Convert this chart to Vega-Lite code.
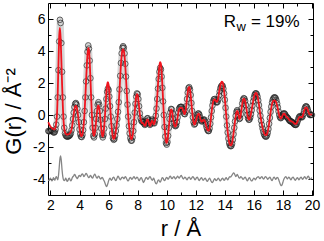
{
"$schema":"https://vega.github.io/schema/vega-lite/v6.json",
"width":265,"height":192,
"autosize":{"type":"none"},
"padding":{"left":48,"top":3,"right":11,"bottom":46},
"config":{"view":{"stroke":"#000","strokeWidth":1},"font":"Liberation Sans",
"axis":{"grid":false,"domain":false,"labelFont":"Liberation Sans","titleFont":"Liberation Sans","labelColor":"#000","titleColor":"#000","tickColor":"#000","tickWidth":1,"labelFontSize":14,"titleFontSize":22,"titleFontWeight":"normal"}},
"datasets":{"pdf":[
{"r":1.85,"o":-1.00,"f":-0.45,"d":-4.05},{"r":1.90,"o":-1.02,"f":-0.55,"d":-4.10},{"r":1.95,"o":-1.00,"f":-0.65,"d":-4.00},{"r":2.00,"o":-0.98,"f":-0.72,"d":-3.95},{"r":2.05,"o":-0.95,"f":-0.78,"d":-4.05},{"r":2.10,"o":-0.98,"f":-0.82,"d":-4.12},{"r":2.15,"o":-1.02,"f":-0.85,"d":-4.05},{"r":2.20,"o":-1.08,"f":-0.88,"d":-3.92},{"r":2.25,"o":-1.10,"f":-0.90,"d":-3.98},{"r":2.30,"o":-1.05,"f":-0.88,"d":-4.08},{"r":2.35,"o":-0.90,"f":-0.75,"d":-3.95},{"r":2.40,"o":-0.60,"f":-0.45,"d":-3.85},{"r":2.45,"o":-0.10,"f":0.05,"d":-3.95},{"r":2.50,"o":1.10,"f":1.40,"d":-4.05},{"r":2.55,"o":2.80,"f":3.20,"d":-3.80},{"r":2.60,"o":4.60,"f":4.90,"d":-3.30},{"r":2.65,"o":5.95,"f":5.45,"d":-2.75},{"r":2.70,"o":5.75,"f":4.80,"d":-2.55},{"r":2.75,"o":4.50,"f":3.40,"d":-2.90},{"r":2.80,"o":2.70,"f":1.90,"d":-3.45},{"r":2.85,"o":1.10,"f":0.60,"d":-3.85},{"r":2.90,"o":-0.10,"f":-0.35,"d":-4.05},{"r":2.95,"o":-0.80,"f":-0.85,"d":-4.10},{"r":3.00,"o":-1.15,"f":-1.08,"d":-4.05},
{"r":3.05,"o":-1.28,"f":-1.18,"d":-3.95},{"r":3.10,"o":-1.33,"f":-1.22,"d":-4.05},{"r":3.15,"o":-1.35,"f":-1.22,"d":-4.15},{"r":3.20,"o":-1.35,"f":-1.22,"d":-4.10},{"r":3.25,"o":-1.32,"f":-1.20,"d":-3.98},{"r":3.30,"o":-1.30,"f":-1.18,"d":-3.95},{"r":3.35,"o":-1.25,"f":-1.12,"d":-4.05},{"r":3.40,"o":-1.15,"f":-1.05,"d":-4.12},{"r":3.45,"o":-0.95,"f":-0.90,"d":-4.05},{"r":3.50,"o":-0.65,"f":-0.65,"d":-3.92},{"r":3.55,"o":-0.25,"f":-0.30,"d":-3.85},{"r":3.60,"o":0.15,"f":0.05,"d":-3.80},{"r":3.65,"o":0.50,"f":0.35,"d":-3.72},{"r":3.70,"o":0.70,"f":0.52,"d":-3.75},{"r":3.75,"o":0.75,"f":0.58,"d":-3.85},{"r":3.80,"o":0.65,"f":0.50,"d":-3.92},{"r":3.85,"o":0.40,"f":0.28,"d":-3.98},{"r":3.90,"o":0.00,"f":-0.05,"d":-3.90},{"r":3.95,"o":-0.45,"f":-0.45,"d":-3.80},{"r":4.00,"o":-0.90,"f":-0.85,"d":-3.78},
{"r":4.05,"o":-1.20,"f":-1.15,"d":-3.85},{"r":4.10,"o":-1.35,"f":-1.30,"d":-3.80},{"r":4.15,"o":-1.38,"f":-1.32,"d":-3.70},{"r":4.20,"o":-1.25,"f":-1.22,"d":-3.68},{"r":4.25,"o":-0.95,"f":-0.92,"d":-3.75},{"r":4.30,"o":-0.45,"f":-0.45,"d":-3.85},{"r":4.35,"o":0.25,"f":0.25,"d":-3.80},{"r":4.40,"o":1.10,"f":1.10,"d":-3.72},{"r":4.45,"o":2.10,"f":2.10,"d":-3.65},{"r":4.50,"o":3.10,"f":3.05,"d":-3.70},{"r":4.55,"o":3.95,"f":3.80,"d":-3.80},{"r":4.60,"o":4.35,"f":4.20,"d":-3.88},{"r":4.65,"o":4.15,"f":4.05,"d":-3.92},{"r":4.70,"o":3.40,"f":3.35,"d":-3.85},{"r":4.75,"o":2.30,"f":2.30,"d":-3.78},{"r":4.80,"o":1.10,"f":1.10,"d":-3.82},{"r":4.85,"o":0.00,"f":0.00,"d":-3.92},{"r":4.90,"o":-0.80,"f":-0.75,"d":-3.95},{"r":4.95,"o":-1.30,"f":-1.20,"d":-3.85},{"r":5.00,"o":-1.40,"f":-1.30,"d":-3.75},
{"r":5.05,"o":-1.20,"f":-1.15,"d":-3.70},{"r":5.10,"o":-0.80,"f":-0.80,"d":-3.78},{"r":5.15,"o":-0.25,"f":-0.30,"d":-3.88},{"r":5.20,"o":0.25,"f":0.15,"d":-3.95},{"r":5.25,"o":0.65,"f":0.50,"d":-3.90},{"r":5.30,"o":0.80,"f":0.60,"d":-3.82},{"r":5.35,"o":0.65,"f":0.45,"d":-3.85},{"r":5.40,"o":0.25,"f":0.10,"d":-3.95},{"r":5.45,"o":-0.30,"f":-0.40,"d":-4.00},{"r":5.50,"o":-0.85,"f":-0.90,"d":-3.95},{"r":5.55,"o":-1.25,"f":-1.25,"d":-3.90},{"r":5.60,"o":-1.40,"f":-1.35,"d":-3.95},{"r":5.65,"o":-1.25,"f":-1.15,"d":-4.05},{"r":5.70,"o":-0.85,"f":-0.70,"d":-4.12},{"r":5.75,"o":-0.25,"f":-0.05,"d":-4.25},{"r":5.80,"o":0.40,"f":0.70,"d":-4.38},{"r":5.85,"o":1.00,"f":1.40,"d":-4.48},{"r":5.90,"o":1.45,"f":1.90,"d":-4.42},{"r":5.95,"o":1.65,"f":2.05,"d":-4.28},{"r":6.00,"o":1.55,"f":1.90,"d":-4.12},
{"r":6.05,"o":1.15,"f":1.40,"d":-4.00},{"r":6.10,"o":0.55,"f":0.70,"d":-3.95},{"r":6.15,"o":-0.10,"f":-0.05,"d":-4.02},{"r":6.20,"o":-0.70,"f":-0.65,"d":-4.08},{"r":6.25,"o":-1.15,"f":-1.10,"d":-4.02},{"r":6.30,"o":-1.45,"f":-1.40,"d":-3.92},{"r":6.35,"o":-1.55,"f":-1.50,"d":-3.88},{"r":6.40,"o":-1.50,"f":-1.45,"d":-3.95},{"r":6.45,"o":-1.30,"f":-1.30,"d":-4.05},{"r":6.50,"o":-1.00,"f":-1.00,"d":-4.10},{"r":6.55,"o":-0.65,"f":-0.65,"d":-4.02},{"r":6.60,"o":-0.25,"f":-0.30,"d":-3.90},{"r":6.65,"o":0.20,"f":0.15,"d":-3.82},{"r":6.70,"o":0.80,"f":0.75,"d":-3.88},{"r":6.75,"o":1.60,"f":1.50,"d":-3.98},{"r":6.80,"o":2.45,"f":2.35,"d":-4.05},{"r":6.85,"o":3.25,"f":3.15,"d":-4.00},{"r":6.90,"o":3.85,"f":3.70,"d":-3.92},{"r":6.95,"o":4.20,"f":4.05,"d":-3.88},{"r":7.00,"o":4.30,"f":4.12,"d":-3.92},
{"r":7.05,"o":4.20,"f":4.00,"d":-3.98},{"r":7.10,"o":3.85,"f":3.65,"d":-3.92},{"r":7.15,"o":3.20,"f":3.05,"d":-3.85},{"r":7.20,"o":2.40,"f":2.30,"d":-3.90},{"r":7.25,"o":1.50,"f":1.45,"d":-4.00},{"r":7.30,"o":0.65,"f":0.65,"d":-4.08},{"r":7.35,"o":-0.10,"f":-0.05,"d":-4.12},{"r":7.40,"o":-0.70,"f":-0.60,"d":-4.05},{"r":7.45,"o":-1.15,"f":-1.05,"d":-3.95},{"r":7.50,"o":-1.45,"f":-1.35,"d":-3.90},{"r":7.55,"o":-1.60,"f":-1.50,"d":-3.95},{"r":7.60,"o":-1.60,"f":-1.50,"d":-4.02},{"r":7.65,"o":-1.40,"f":-1.30,"d":-3.98},{"r":7.70,"o":-1.00,"f":-0.95,"d":-3.90},{"r":7.75,"o":-0.45,"f":-0.40,"d":-3.85},{"r":7.80,"o":0.15,"f":0.20,"d":-3.92},{"r":7.85,"o":0.70,"f":0.75,"d":-4.00},{"r":7.90,"o":1.15,"f":1.15,"d":-3.95},{"r":7.95,"o":1.35,"f":1.30,"d":-3.88},{"r":8.00,"o":1.30,"f":1.25,"d":-3.92},
{"r":8.05,"o":1.00,"f":0.95,"d":-4.02},{"r":8.10,"o":0.55,"f":0.50,"d":-4.10},{"r":8.15,"o":0.10,"f":0.05,"d":-4.05},{"r":8.20,"o":-0.20,"f":-0.25,"d":-3.95},{"r":8.25,"o":-0.35,"f":-0.42,"d":-3.92},{"r":8.30,"o":-0.42,"f":-0.50,"d":-4.00},{"r":8.35,"o":-0.42,"f":-0.50,"d":-4.12},{"r":8.40,"o":-0.45,"f":-0.55,"d":-4.22},{"r":8.45,"o":-0.55,"f":-0.62,"d":-4.15},{"r":8.50,"o":-0.62,"f":-0.68,"d":-4.05},{"r":8.55,"o":-0.55,"f":-0.60,"d":-3.95},{"r":8.60,"o":-0.38,"f":-0.42,"d":-3.90},{"r":8.65,"o":-0.22,"f":-0.30,"d":-3.95},{"r":8.70,"o":-0.20,"f":-0.28,"d":-4.02},{"r":8.75,"o":-0.32,"f":-0.42,"d":-3.98},{"r":8.80,"o":-0.52,"f":-0.60,"d":-3.88},{"r":8.85,"o":-0.62,"f":-0.68,"d":-3.85},{"r":8.90,"o":-0.55,"f":-0.60,"d":-3.92},{"r":8.95,"o":-0.38,"f":-0.42,"d":-4.02},{"r":9.00,"o":-0.28,"f":-0.35,"d":-4.08},
{"r":9.05,"o":-0.35,"f":-0.45,"d":-4.02},{"r":9.10,"o":-0.50,"f":-0.58,"d":-3.95},{"r":9.15,"o":-0.52,"f":-0.55,"d":-4.05},{"r":9.20,"o":-0.35,"f":-0.35,"d":-4.18},{"r":9.25,"o":-0.05,"f":0.00,"d":-4.28},{"r":9.30,"o":0.40,"f":0.50,"d":-4.30},{"r":9.35,"o":1.00,"f":1.15,"d":-4.20},{"r":9.40,"o":1.65,"f":1.90,"d":-4.08},{"r":9.45,"o":2.25,"f":2.60,"d":-4.05},{"r":9.50,"o":2.70,"f":3.10,"d":-4.15},{"r":9.55,"o":2.95,"f":3.30,"d":-4.20},{"r":9.60,"o":2.85,"f":3.20,"d":-4.12},{"r":9.65,"o":2.40,"f":2.70,"d":-4.00},{"r":9.70,"o":1.70,"f":1.90,"d":-3.92},{"r":9.75,"o":0.85,"f":0.95,"d":-3.95},{"r":9.80,"o":0.00,"f":0.05,"d":-4.05},{"r":9.85,"o":-0.75,"f":-0.70,"d":-4.10},{"r":9.90,"o":-1.35,"f":-1.25,"d":-4.05},{"r":9.95,"o":-1.75,"f":-1.65,"d":-3.95},{"r":10.00,"o":-1.85,"f":-1.75,"d":-3.90},
{"r":10.05,"o":-1.70,"f":-1.60,"d":-3.95},{"r":10.10,"o":-1.30,"f":-1.25,"d":-4.02},{"r":10.15,"o":-0.80,"f":-0.75,"d":-3.95},{"r":10.20,"o":-0.25,"f":-0.25,"d":-3.85},{"r":10.25,"o":0.15,"f":0.15,"d":-3.82},{"r":10.30,"o":0.38,"f":0.35,"d":-3.90},{"r":10.35,"o":0.35,"f":0.30,"d":-3.98},{"r":10.40,"o":0.10,"f":0.05,"d":-3.95},{"r":10.45,"o":-0.25,"f":-0.30,"d":-3.88},{"r":10.50,"o":-0.50,"f":-0.55,"d":-3.85},{"r":10.55,"o":-0.65,"f":-0.70,"d":-3.92},{"r":10.60,"o":-0.70,"f":-0.72,"d":-4.00},{"r":10.65,"o":-0.65,"f":-0.65,"d":-3.95},{"r":10.70,"o":-0.45,"f":-0.45,"d":-3.88},{"r":10.75,"o":-0.15,"f":-0.15,"d":-3.82},{"r":10.80,"o":0.15,"f":0.15,"d":-3.88},{"r":10.85,"o":0.38,"f":0.35,"d":-3.95},{"r":10.90,"o":0.48,"f":0.43,"d":-3.90},{"r":10.95,"o":0.50,"f":0.45,"d":-3.82},{"r":11.00,"o":0.52,"f":0.46,"d":-3.78},
{"r":11.05,"o":0.48,"f":0.44,"d":-3.85},{"r":11.10,"o":0.38,"f":0.36,"d":-3.95},{"r":11.15,"o":0.22,"f":0.22,"d":-4.00},{"r":11.20,"o":0.08,"f":0.08,"d":-3.95},{"r":11.25,"o":0.05,"f":0.05,"d":-3.88},{"r":11.30,"o":0.20,"f":0.25,"d":-3.92},{"r":11.35,"o":0.55,"f":0.60,"d":-4.00},{"r":11.40,"o":1.00,"f":1.05,"d":-4.05},{"r":11.45,"o":1.40,"f":1.45,"d":-3.98},{"r":11.50,"o":1.68,"f":1.70,"d":-3.90},{"r":11.55,"o":1.74,"f":1.76,"d":-3.88},{"r":11.60,"o":1.60,"f":1.62,"d":-3.95},{"r":11.65,"o":1.25,"f":1.25,"d":-4.02},{"r":11.70,"o":0.75,"f":0.75,"d":-3.98},{"r":11.75,"o":0.25,"f":0.25,"d":-3.90},{"r":11.80,"o":-0.15,"f":-0.15,"d":-3.85},{"r":11.85,"o":-0.45,"f":-0.45,"d":-3.90},{"r":11.90,"o":-0.60,"f":-0.60,"d":-3.98},{"r":11.95,"o":-0.55,"f":-0.55,"d":-4.05},{"r":12.00,"o":-0.40,"f":-0.40,"d":-4.00},
{"r":12.05,"o":-0.20,"f":-0.22,"d":-3.92},{"r":12.10,"o":-0.02,"f":-0.05,"d":-3.88},{"r":12.15,"o":0.08,"f":0.05,"d":-3.95},{"r":12.20,"o":0.10,"f":0.08,"d":-4.05},{"r":12.25,"o":0.02,"f":0.00,"d":-4.10},{"r":12.30,"o":-0.15,"f":-0.18,"d":-4.02},{"r":12.35,"o":-0.32,"f":-0.35,"d":-3.95},{"r":12.40,"o":-0.40,"f":-0.42,"d":-3.92},{"r":12.45,"o":-0.38,"f":-0.40,"d":-4.00},{"r":12.50,"o":-0.32,"f":-0.34,"d":-4.08},{"r":12.55,"o":-0.28,"f":-0.30,"d":-4.05},{"r":12.60,"o":-0.30,"f":-0.32,"d":-3.98},{"r":12.65,"o":-0.42,"f":-0.45,"d":-3.95},{"r":12.70,"o":-0.60,"f":-0.62,"d":-4.02},{"r":12.75,"o":-0.78,"f":-0.80,"d":-4.10},{"r":12.80,"o":-0.92,"f":-0.92,"d":-4.15},{"r":12.85,"o":-1.00,"f":-0.98,"d":-4.08},{"r":12.90,"o":-1.00,"f":-0.98,"d":-4.00},{"r":12.95,"o":-0.85,"f":-0.85,"d":-3.95},{"r":13.00,"o":-0.55,"f":-0.55,"d":-4.02},
{"r":13.05,"o":-0.15,"f":-0.15,"d":-4.12},{"r":13.10,"o":0.25,"f":0.25,"d":-4.20},{"r":13.15,"o":0.60,"f":0.58,"d":-4.22},{"r":13.20,"o":0.85,"f":0.82,"d":-4.15},{"r":13.25,"o":0.98,"f":0.95,"d":-4.05},{"r":13.30,"o":1.00,"f":0.98,"d":-3.98},{"r":13.35,"o":0.92,"f":0.92,"d":-4.02},{"r":13.40,"o":0.82,"f":0.85,"d":-4.10},{"r":13.45,"o":0.78,"f":0.82,"d":-4.08},{"r":13.50,"o":0.82,"f":0.90,"d":-4.00},{"r":13.55,"o":0.98,"f":1.10,"d":-3.95},{"r":13.60,"o":1.22,"f":1.38,"d":-4.00},{"r":13.65,"o":1.48,"f":1.65,"d":-4.08},{"r":13.70,"o":1.68,"f":1.88,"d":-4.12},{"r":13.75,"o":1.80,"f":2.02,"d":-4.05},{"r":13.80,"o":1.85,"f":2.08,"d":-3.98},{"r":13.85,"o":1.82,"f":2.05,"d":-3.95},{"r":13.90,"o":1.65,"f":1.85,"d":-4.02},{"r":13.95,"o":1.35,"f":1.50,"d":-4.08},{"r":14.00,"o":0.95,"f":1.05,"d":-4.05},
{"r":14.05,"o":0.45,"f":0.50,"d":-3.95},{"r":14.10,"o":-0.10,"f":-0.05,"d":-3.92},{"r":14.15,"o":-0.65,"f":-0.60,"d":-4.00},{"r":14.20,"o":-1.10,"f":-1.05,"d":-4.05},{"r":14.25,"o":-1.48,"f":-1.42,"d":-3.98},{"r":14.30,"o":-1.75,"f":-1.70,"d":-3.90},{"r":14.35,"o":-1.90,"f":-1.85,"d":-3.85},{"r":14.40,"o":-1.95,"f":-1.90,"d":-3.88},{"r":14.45,"o":-1.93,"f":-1.88,"d":-3.82},{"r":14.50,"o":-1.80,"f":-1.75,"d":-3.75},{"r":14.55,"o":-1.55,"f":-1.50,"d":-3.68},{"r":14.60,"o":-1.20,"f":-1.15,"d":-3.62},{"r":14.65,"o":-0.80,"f":-0.78,"d":-3.65},{"r":14.70,"o":-0.40,"f":-0.40,"d":-3.75},{"r":14.75,"o":-0.05,"f":-0.08,"d":-3.85},{"r":14.80,"o":0.20,"f":0.15,"d":-3.80},{"r":14.85,"o":0.30,"f":0.25,"d":-3.72},{"r":14.90,"o":0.20,"f":0.18,"d":-3.78},{"r":14.95,"o":-0.05,"f":-0.05,"d":-3.88},{"r":15.00,"o":-0.25,"f":-0.25,"d":-3.95},
{"r":15.05,"o":-0.20,"f":-0.22,"d":-3.92},{"r":15.10,"o":0.05,"f":0.02,"d":-3.85},{"r":15.15,"o":0.40,"f":0.35,"d":-3.88},{"r":15.20,"o":0.72,"f":0.68,"d":-3.95},{"r":15.25,"o":0.95,"f":0.92,"d":-4.02},{"r":15.30,"o":1.05,"f":1.02,"d":-4.00},{"r":15.35,"o":1.02,"f":1.00,"d":-3.92},{"r":15.40,"o":0.88,"f":0.86,"d":-3.88},{"r":15.45,"o":0.62,"f":0.62,"d":-3.95},{"r":15.50,"o":0.30,"f":0.32,"d":-4.05},{"r":15.55,"o":0.00,"f":0.02,"d":-4.12},{"r":15.60,"o":-0.20,"f":-0.18,"d":-4.05},{"r":15.65,"o":-0.30,"f":-0.28,"d":-3.95},{"r":15.70,"o":-0.28,"f":-0.25,"d":-3.92},{"r":15.75,"o":-0.15,"f":-0.12,"d":-4.00},{"r":15.80,"o":0.05,"f":0.08,"d":-4.08},{"r":15.85,"o":0.30,"f":0.32,"d":-4.12},{"r":15.90,"o":0.58,"f":0.58,"d":-4.08},{"r":15.95,"o":0.85,"f":0.85,"d":-4.00},{"r":16.00,"o":1.08,"f":1.08,"d":-3.95},
{"r":16.05,"o":1.25,"f":1.25,"d":-3.98},{"r":16.10,"o":1.34,"f":1.35,"d":-4.05},{"r":16.15,"o":1.36,"f":1.38,"d":-4.00},{"r":16.20,"o":1.30,"f":1.32,"d":-3.92},{"r":16.25,"o":1.15,"f":1.18,"d":-3.88},{"r":16.30,"o":0.92,"f":0.95,"d":-3.85},{"r":16.35,"o":0.62,"f":0.65,"d":-3.90},{"r":16.40,"o":0.28,"f":0.30,"d":-3.98},{"r":16.45,"o":-0.05,"f":-0.02,"d":-3.95},{"r":16.50,"o":-0.35,"f":-0.32,"d":-3.88},{"r":16.55,"o":-0.62,"f":-0.58,"d":-3.85},{"r":16.60,"o":-0.85,"f":-0.80,"d":-3.92},{"r":16.65,"o":-1.05,"f":-0.98,"d":-4.00},{"r":16.70,"o":-1.20,"f":-1.12,"d":-3.98},{"r":16.75,"o":-1.30,"f":-1.22,"d":-3.90},{"r":16.80,"o":-1.35,"f":-1.26,"d":-3.85},{"r":16.85,"o":-1.35,"f":-1.26,"d":-3.88},{"r":16.90,"o":-1.28,"f":-1.20,"d":-3.95},{"r":16.95,"o":-1.12,"f":-1.05,"d":-4.02},{"r":17.00,"o":-0.88,"f":-0.82,"d":-3.98},
{"r":17.05,"o":-0.55,"f":-0.52,"d":-3.92},{"r":17.10,"o":-0.18,"f":-0.18,"d":-3.88},{"r":17.15,"o":0.20,"f":0.15,"d":-3.95},{"r":17.20,"o":0.52,"f":0.45,"d":-4.05},{"r":17.25,"o":0.78,"f":0.68,"d":-4.10},{"r":17.30,"o":0.95,"f":0.82,"d":-4.02},{"r":17.35,"o":1.05,"f":0.90,"d":-3.92},{"r":17.40,"o":1.10,"f":0.92,"d":-3.88},{"r":17.45,"o":1.10,"f":0.90,"d":-3.95},{"r":17.50,"o":1.05,"f":0.85,"d":-4.02},{"r":17.55,"o":0.92,"f":0.75,"d":-3.98},{"r":17.60,"o":0.72,"f":0.58,"d":-3.90},{"r":17.65,"o":0.48,"f":0.38,"d":-3.92},{"r":17.70,"o":0.22,"f":0.15,"d":-4.02},{"r":17.75,"o":0.00,"f":-0.05,"d":-4.15},{"r":17.80,"o":-0.15,"f":-0.18,"d":-4.28},{"r":17.85,"o":-0.20,"f":-0.22,"d":-4.38},{"r":17.90,"o":-0.15,"f":-0.18,"d":-4.42},{"r":17.95,"o":-0.05,"f":-0.08,"d":-4.35},{"r":18.00,"o":0.05,"f":0.02,"d":-4.20},
{"r":18.05,"o":0.10,"f":0.08,"d":-4.05},{"r":18.10,"o":0.10,"f":0.08,"d":-3.95},{"r":18.15,"o":0.05,"f":0.02,"d":-3.88},{"r":18.20,"o":-0.05,"f":-0.05,"d":-3.85},{"r":18.25,"o":-0.12,"f":-0.12,"d":-3.92},{"r":18.30,"o":-0.15,"f":-0.15,"d":-4.00},{"r":18.35,"o":-0.20,"f":-0.20,"d":-3.95},{"r":18.40,"o":-0.28,"f":-0.26,"d":-3.88},{"r":18.45,"o":-0.35,"f":-0.32,"d":-3.92},{"r":18.50,"o":-0.38,"f":-0.36,"d":-4.00},{"r":18.55,"o":-0.40,"f":-0.38,"d":-4.05},{"r":18.60,"o":-0.42,"f":-0.40,"d":-3.98},{"r":18.65,"o":-0.45,"f":-0.42,"d":-3.90},{"r":18.70,"o":-0.50,"f":-0.46,"d":-3.88},{"r":18.75,"o":-0.55,"f":-0.50,"d":-3.95},{"r":18.80,"o":-0.60,"f":-0.54,"d":-4.02},{"r":18.85,"o":-0.62,"f":-0.56,"d":-4.08},{"r":18.90,"o":-0.62,"f":-0.56,"d":-4.02},{"r":18.95,"o":-0.55,"f":-0.50,"d":-3.95},{"r":19.00,"o":-0.42,"f":-0.40,"d":-3.92},
{"r":19.05,"o":-0.28,"f":-0.28,"d":-3.98},{"r":19.10,"o":-0.15,"f":-0.18,"d":-4.05},{"r":19.15,"o":-0.08,"f":-0.12,"d":-4.00},{"r":19.20,"o":-0.08,"f":-0.12,"d":-3.92},{"r":19.25,"o":-0.12,"f":-0.15,"d":-3.88},{"r":19.30,"o":-0.15,"f":-0.15,"d":-3.95},{"r":19.35,"o":-0.10,"f":-0.08,"d":-4.02},{"r":19.40,"o":0.05,"f":0.05,"d":-3.98},{"r":19.45,"o":0.25,"f":0.22,"d":-3.90},{"r":19.50,"o":0.42,"f":0.38,"d":-3.85},{"r":19.55,"o":0.52,"f":0.46,"d":-3.92},{"r":19.60,"o":0.55,"f":0.48,"d":-4.00},{"r":19.65,"o":0.50,"f":0.44,"d":-3.95},{"r":19.70,"o":0.38,"f":0.34,"d":-3.85},{"r":19.75,"o":0.22,"f":0.20,"d":-3.82},{"r":19.80,"o":0.08,"f":0.08,"d":-3.90},{"r":19.85,"o":0.00,"f":0.02,"d":-4.00},{"r":19.90,"o":0.00,"f":0.02,"d":-4.02},{"r":19.95,"o":0.02,"f":0.04,"d":-3.95},{"r":20.00,"o":0.00,"f":0.02,"d":-3.92}
]},
"layer":[
{"data":{"name":"pdf"},"mark":{"type":"line","color":"#d6d6d6","strokeWidth":6,"interpolate":"monotone"},
"encoding":{
"x":{"field":"r","type":"quantitative","scale":{"domain":[1.83,20.07],"nice":false,"zero":false},
"axis":{"orient":"bottom","values":[2,3,4,5,6,7,8,9,10,11,12,13,14,15,16,17,18,19,20],"tickSize":{"condition":{"test":"datum.value % 2 === 0","value":-5},"value":-3},"labelPadding":8,"labelExpr":"datum.value % 2 === 0 ? datum.label : ''","title":"r / Å","titleBaseline":"alphabetic","titleY":40}},
"y":{"field":"o","type":"quantitative","scale":{"domain":[-5,7],"nice":false,"zero":false},
"axis":{"orient":"left","values":[-4,-3,-2,-1,0,1,2,3,4,5,6],"tickSize":{"condition":{"test":"datum.value % 2 === 0","value":-5},"value":-3},"labelPadding":8,"labelExpr":"datum.value % 2 === 0 ? replace(datum.label, '−', '-') : ''","title":"G(r) / Å⁻²","titleBaseline":"alphabetic","titleX":-28,"titleY":108}}}},
{"data":{"name":"pdf"},"mark":{"type":"point","shape":"circle","filled":false,"size":32,"strokeWidth":0.9,"color":"#1a1a1a"},
"encoding":{
"x":{"field":"r","type":"quantitative","scale":{"domain":[1.83,20.07],"nice":false,"zero":false},
"axis":{"orient":"top","values":[2,3,4,5,6,7,8,9,10,11,12,13,14,15,16,17,18,19,20],"tickSize":{"condition":{"test":"datum.value % 2 === 0","value":-5},"value":-3},"labels":false,"title":null}},
"y":{"field":"o","type":"quantitative","scale":{"domain":[-5,7],"nice":false,"zero":false},
"axis":{"orient":"right","values":[-4,-3,-2,-1,0,1,2,3,4,5,6],"tickSize":{"condition":{"test":"datum.value % 2 === 0","value":-5},"value":-3},"labels":false,"title":null}}}},
{"data":{"name":"pdf"},"mark":{"type":"line","color":"#f0141e","strokeWidth":1.8,"interpolate":"monotone"},
"encoding":{"x":{"field":"r","type":"quantitative","scale":{"domain":[1.83,20.07],"nice":false,"zero":false},"axis":null},
"y":{"field":"f","type":"quantitative","scale":{"domain":[-5,7],"nice":false,"zero":false},"axis":null}}},
{"data":{"name":"pdf"},"mark":{"type":"line","color":"#858585","strokeWidth":1.3,"interpolate":"monotone"},
"encoding":{"x":{"field":"r","type":"quantitative","scale":{"domain":[1.83,20.07],"nice":false,"zero":false},"axis":null},
"y":{"field":"d","type":"quantitative","scale":{"domain":[-5,7],"nice":false,"zero":false},"axis":null}}},
{"data":{"values":[{}]},"mark":{"type":"text","text":"R","align":"left","baseline":"alphabetic","fontSize":17,"font":"Liberation Sans","color":"#000"},
"encoding":{"x":{"datum":13.92,"type":"quantitative","scale":{"domain":[1.83,20.07],"nice":false,"zero":false},"axis":null},"y":{"datum":5.52,"type":"quantitative","scale":{"domain":[-5,7],"nice":false,"zero":false},"axis":null}}},
{"data":{"values":[{}]},"mark":{"type":"text","text":"w","align":"left","baseline":"alphabetic","fontSize":13,"font":"Liberation Sans","color":"#000"},
"encoding":{"x":{"datum":14.8,"type":"quantitative","scale":{"domain":[1.83,20.07],"nice":false,"zero":false},"axis":null},"y":{"datum":5.27,"type":"quantitative","scale":{"domain":[-5,7],"nice":false,"zero":false},"axis":null}}},
{"data":{"values":[{}]},"mark":{"type":"text","text":"= 19%","align":"left","baseline":"alphabetic","fontSize":17,"font":"Liberation Sans","color":"#000"},
"encoding":{"x":{"datum":15.8,"type":"quantitative","scale":{"domain":[1.83,20.07],"nice":false,"zero":false},"axis":null},"y":{"datum":5.52,"type":"quantitative","scale":{"domain":[-5,7],"nice":false,"zero":false},"axis":null}}}
],
"resolve":{"axis":{"x":"independent","y":"independent"}}
}
